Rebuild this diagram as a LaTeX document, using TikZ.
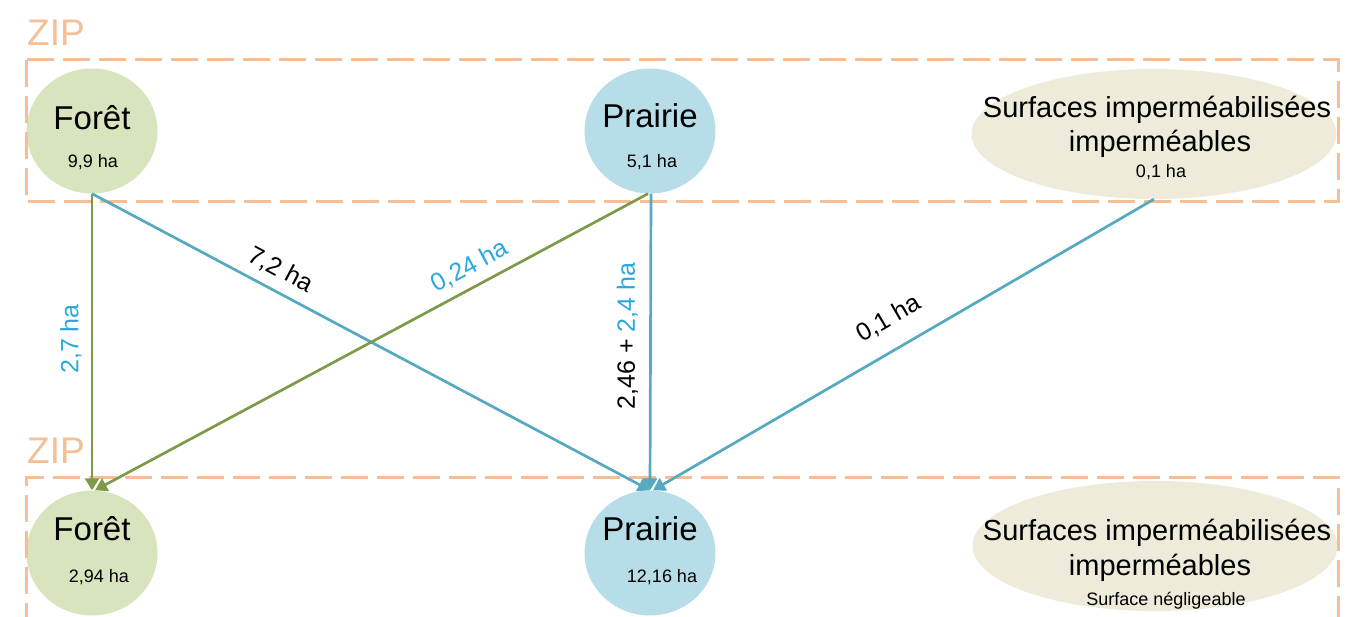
\documentclass[tikz,border=0pt]{standalone}
\usepackage{fontspec}
\setmainfont{Liberation Sans}
\usetikzlibrary{arrows.meta,shapes.geometric}

\definecolor{forestfill}{HTML}{D7E4BD}
\definecolor{meadowfill}{HTML}{B7DEE8}
\definecolor{sealedfill}{HTML}{EEEBDA}
\definecolor{zipline}{HTML}{F5BE94}
\definecolor{oliveline}{HTML}{7E9A48}
\definecolor{tealline}{HTML}{55A9C0}
\definecolor{labelblue}{HTML}{2AA7DF}

\tikzset{
  landcircle/.style={ellipse, minimum width=131pt, minimum height=125pt, inner sep=0pt},
  forestnode/.style={landcircle, fill=forestfill},
  meadownode/.style={landcircle, fill=meadowfill},
  sealednode/.style={ellipse, fill=sealedfill, minimum width=365pt, minimum height=130pt, inner sep=0pt},
  bigtitle/.style={font=\fontsize{33}{33}\selectfont, anchor=base, inner sep=0pt},
  midtitle/.style={font=\fontsize{29}{29}\selectfont, anchor=base, inner sep=0pt},
  areatext/.style={font=\fontsize{18}{18}\selectfont, anchor=base, inner sep=0pt},
  zonebox/.style={draw=zipline, line width=3pt, dash pattern=on 27pt off 9pt},
  zonetitle/.style={font=\fontsize{37}{37}\selectfont, text=zipline, anchor=base west, inner sep=0pt},
  flow/.style={line width=2.7pt, -{Triangle[length=12pt,width=14pt]}},
  olivflow/.style={flow, draw=oliveline, color=oliveline},
  tealflow/.style={flow, draw=tealline, color=tealline},
  flowlabel/.style={font=\fontsize{25}{25}\selectfont, inner sep=0pt},
}

\begin{document}
\begin{tikzpicture}[x=1pt, y=-1pt]
\useasboundingbox (0,0) rectangle (1354,617);

% land-use nodes, before
\node[forestnode] (forA) at (92,131) {};
\node[meadownode] (praA) at (650,131) {};
\node[sealednode] (impA) at (1154,134) {};
% land-use nodes, after
\node[forestnode] (forB) at (92,553) {};
\node[meadownode] (praB) at (650,553) {};
\node[sealednode] (impB) at (1155,546) {};

% node texts
\node[bigtitle] (forAt) at (92,130) {Forêt};
\node[areatext] (forAa) at (93,168) {9,9 ha};
\node[bigtitle] (praAt) at (650,128) {Prairie};
\node[areatext] (praAa) at (652,168) {5,1 ha};
\node[midtitle] (impAt1) at (1157,118) {Surfaces imperméabilisées};
\node[midtitle] (impAt2) at (1160,152) {imperméables};
\node[areatext] (impAa) at (1161,178) {0,1 ha};

\node[bigtitle] (forBt) at (92,540) {Forêt};
\node[areatext] (forBa) at (99,582) {2,94 ha};
\node[bigtitle] (praBt) at (650,540) {Prairie};
\node[areatext] (praBa) at (662,582) {12,16 ha};
\node[midtitle] (impBt1) at (1157,540) {Surfaces imperméabilisées};
\node[midtitle] (impBt2) at (1160,575) {imperméables};
\node[areatext] (impBa) at (1166,605) {Surface négligeable};

% ZIP zones
\draw[zonebox] (26,60) rectangle (1338,202);
\draw[zonebox] (26,630) -- (26,477) -- (1338,477) -- (1338,630);
\node[zonetitle] (zipA) at (27,46) {ZIP};
\node[zonetitle] (zipB) at (27,463) {ZIP};

% flows between land uses
\draw[olivflow] (forA.south) -- (forB.north)
  node[flowlabel, pos=0.49, rotate=90, anchor=south, yshift=9pt, text=labelblue] {2,7 ha};
\draw[tealflow] (forA.south) -- (praB.north)
  node[flowlabel, pos=0.32, sloped, anchor=south, yshift=9pt, text=black] {7,2 ha};
\draw[olivflow] ([xshift=-2pt]praA.south) -- ([xshift=3pt]forB.north)
  node[flowlabel, pos=0.305, sloped, anchor=south, yshift=8pt, text=labelblue] {0,24 ha};
\draw[tealflow] ([xshift=1pt]praA.south) -- (praB.north)
  node[flowlabel, pos=0.48, rotate=90, anchor=south, yshift=11pt, text=black] {2,46 + \textcolor{labelblue}{2,4 ha}};
\draw[tealflow] (impA.south) -- ([xshift=3pt]praB.north)
  node[flowlabel, pos=0.5, sloped, anchor=south, yshift=18pt, text=black] {0,1 ha};
\end{tikzpicture}
\end{document}
